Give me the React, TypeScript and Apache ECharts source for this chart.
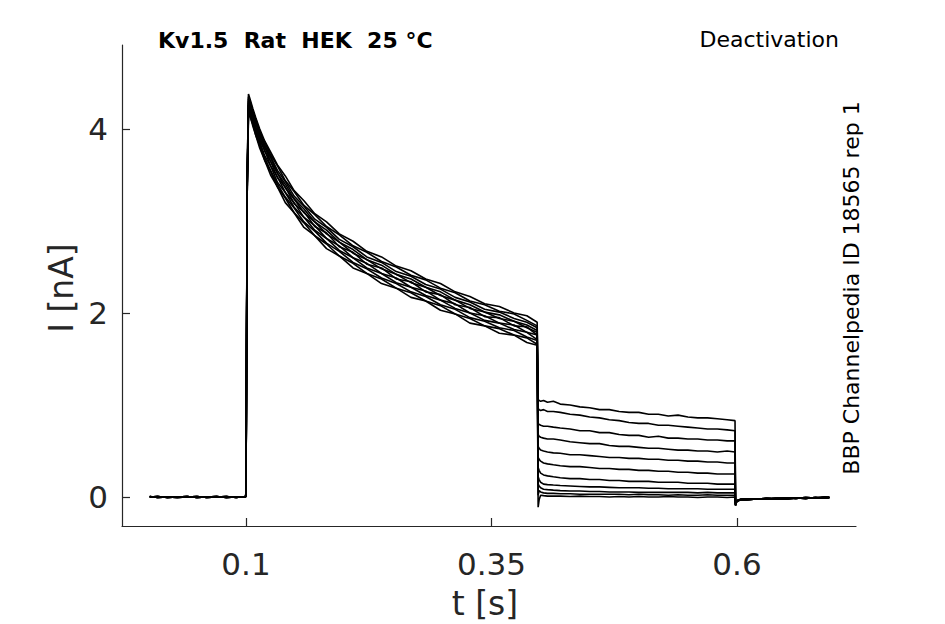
import React, { useEffect, useRef } from "react";
import * as echarts from "echarts";

// ---- axis ticks ----
const xTickValues = [0.1, 0.35, 0.6];
const xTickLabels = ["0.1", "0.35", "0.6"];
const yTickValues = [0, 2, 4];
const yTickLabels = ["0", "2", "4"];

// ---- baseline before the step (s, nA) ----
const tPre = [0.002, 0.01, 0.02, 0.03, 0.04, 0.05, 0.06, 0.07, 0.08, 0.09, 0.0995];
const preA = [0.0, 0.005, -0.005, 0.0, 0.005, -0.005, 0.0, 0.005, -0.005, 0.0, 0.0];
const preB = [0.005, -0.005, 0.0, -0.005, 0.0, 0.005, -0.005, 0.0, 0.005, -0.005, 0.005];

// ---- activation step ----
const tAct = [0.1, 0.1012, 0.1025, 0.104, 0.107, 0.11, 0.114, 0.119, 0.125, 0.132, 0.14, 0.149, 0.159, 0.17, 0.182, 0.195, 0.209, 0.223, 0.238, 0.253, 0.268, 0.283, 0.298, 0.313, 0.328, 0.343, 0.358, 0.373, 0.386, 0.3965];
const actA = [0.04, 3.5, 4.38, 4.33, 4.22, 4.12, 4.0, 3.87, 3.75, 3.61, 3.49, 3.33, 3.22, 3.08, 2.99, 2.86, 2.78, 2.67, 2.61, 2.51, 2.46, 2.37, 2.32, 2.23, 2.18, 2.1, 2.07, 2.0, 1.97, 1.9];
const actB = [0.05, 3.3, 4.3, 4.31, 4.19, 4.11, 3.97, 3.86, 3.72, 3.6, 3.44, 3.32, 3.17, 3.07, 2.94, 2.85, 2.73, 2.66, 2.56, 2.5, 2.41, 2.36, 2.27, 2.22, 2.13, 2.09, 2.02, 1.99, 1.92, 1.86];
const actC = [0.03, 3.4, 4.25, 4.28, 4.2, 4.08, 3.96, 3.83, 3.7, 3.55, 3.43, 3.27, 3.16, 3.02, 2.93, 2.8, 2.72, 2.61, 2.55, 2.45, 2.4, 2.31, 2.26, 2.17, 2.12, 2.04, 2.01, 1.94, 1.9, 1.84];
const actD = [0.05, 3.45, 4.33, 4.27, 4.17, 4.09, 3.95, 3.8, 3.69, 3.52, 3.4, 3.24, 3.13, 2.99, 2.9, 2.77, 2.69, 2.58, 2.52, 2.42, 2.37, 2.28, 2.23, 2.14, 2.09, 2.01, 1.98, 1.91, 1.87, 1.81];
const actE = [0.04, 3.35, 4.2, 4.24, 4.15, 4.06, 3.93, 3.81, 3.65, 3.52, 3.36, 3.24, 3.09, 2.99, 2.86, 2.77, 2.65, 2.58, 2.48, 2.42, 2.33, 2.28, 2.19, 2.14, 2.05, 2.01, 1.94, 1.91, 1.84, 1.79];
const actF = [0.05, 3.4, 4.28, 4.22, 4.13, 4.02, 3.91, 3.76, 3.65, 3.47, 3.37, 3.19, 3.1, 2.94, 2.87, 2.72, 2.66, 2.53, 2.49, 2.37, 2.34, 2.23, 2.2, 2.09, 2.06, 1.96, 1.95, 1.86, 1.85, 1.76];
const actG = [0.03, 3.3, 4.15, 4.2, 4.12, 4.01, 3.88, 3.77, 3.6, 3.48, 3.31, 3.2, 3.04, 2.95, 2.81, 2.73, 2.6, 2.54, 2.43, 2.38, 2.28, 2.24, 2.14, 2.1, 2.0, 1.97, 1.89, 1.87, 1.79, 1.76];
const actH = [0.05, 3.35, 4.22, 4.18, 4.08, 3.98, 3.86, 3.71, 3.6, 3.42, 3.31, 3.15, 3.04, 2.9, 2.81, 2.68, 2.6, 2.49, 2.43, 2.33, 2.28, 2.19, 2.14, 2.05, 2.0, 1.92, 1.89, 1.82, 1.79, 1.71];
const actI = [0.04, 3.5, 4.35, 4.21, 4.07, 3.96, 3.83, 3.69, 3.55, 3.4, 3.26, 3.14, 2.99, 2.89, 2.76, 2.67, 2.55, 2.48, 2.38, 2.32, 2.23, 2.18, 2.09, 2.04, 1.95, 1.91, 1.84, 1.81, 1.74, 1.7];
const actJ = [0.05, 3.3, 4.18, 4.14, 4.05, 3.93, 3.82, 3.66, 3.54, 3.37, 3.25, 3.09, 2.98, 2.84, 2.75, 2.62, 2.54, 2.43, 2.37, 2.27, 2.22, 2.13, 2.08, 1.99, 1.94, 1.86, 1.83, 1.76, 1.73, 1.66];
const actK = [0.04, 3.4, 4.26, 4.15, 4.03, 3.93, 3.79, 3.66, 3.5, 3.37, 3.2, 3.09, 2.93, 2.84, 2.7, 2.62, 2.49, 2.43, 2.32, 2.27, 2.17, 2.13, 2.03, 1.99, 1.89, 1.86, 1.78, 1.76, 1.68, 1.65];

// ---- deactivation tails ----
const tTail = [0.3975, 0.3985, 0.4, 0.403, 0.407, 0.413, 0.42, 0.43, 0.44, 0.45, 0.46, 0.47, 0.48, 0.49, 0.5, 0.51, 0.52, 0.53, 0.54, 0.55, 0.56, 0.57, 0.58, 0.59, 0.598];
const tailA = [1.06, 1.05, 1.04, 1.05, 1.03, 1.04, 1.01, 1.0, 0.98, 0.97, 0.95, 0.95, 0.93, 0.92, 0.92, 0.9, 0.9, 0.88, 0.89, 0.87, 0.86, 0.86, 0.85, 0.84, 0.83];
const tailB = [0.96, 0.95, 0.94, 0.95, 0.93, 0.93, 0.92, 0.9, 0.89, 0.87, 0.86, 0.84, 0.83, 0.81, 0.8, 0.8, 0.78, 0.78, 0.77, 0.76, 0.75, 0.74, 0.74, 0.73, 0.72];
const tailC = [0.8, 0.79, 0.78, 0.77, 0.77, 0.76, 0.75, 0.74, 0.72, 0.72, 0.7, 0.7, 0.68, 0.67, 0.67, 0.65, 0.66, 0.64, 0.64, 0.63, 0.63, 0.62, 0.62, 0.61, 0.61];
const tailD = [0.68, 0.66, 0.65, 0.64, 0.63, 0.63, 0.62, 0.6, 0.59, 0.58, 0.58, 0.56, 0.55, 0.55, 0.54, 0.53, 0.53, 0.52, 0.51, 0.51, 0.5, 0.5, 0.49, 0.5, 0.49];
const tailE = [0.55, 0.53, 0.51, 0.5, 0.49, 0.48, 0.475, 0.46, 0.46, 0.45, 0.44, 0.43, 0.43, 0.42, 0.42, 0.41, 0.41, 0.4, 0.4, 0.39, 0.39, 0.38, 0.38, 0.37, 0.37];
const tailF = [0.43, 0.41, 0.39, 0.37, 0.36, 0.35, 0.34, 0.33, 0.33, 0.32, 0.31, 0.31, 0.3, 0.3, 0.29, 0.29, 0.28, 0.28, 0.27, 0.27, 0.26, 0.26, 0.25, 0.25, 0.25];
const tailG = [0.32, 0.29, 0.26, 0.24, 0.23, 0.22, 0.21, 0.2, 0.2, 0.19, 0.19, 0.18, 0.18, 0.17, 0.17, 0.17, 0.16, 0.16, 0.16, 0.15, 0.15, 0.15, 0.14, 0.14, 0.14];
const tailH = [0.22, 0.19, 0.16, 0.14, 0.135, 0.13, 0.125, 0.12, 0.115, 0.11, 0.11, 0.105, 0.1, 0.1, 0.1, 0.095, 0.095, 0.09, 0.09, 0.09, 0.09, 0.085, 0.085, 0.085, 0.085];
const tailI = [0.14, 0.12, 0.1, 0.085, 0.08, 0.075, 0.07, 0.065, 0.065, 0.06, 0.06, 0.055, 0.055, 0.055, 0.05, 0.05, 0.05, 0.05, 0.05, 0.05, 0.045, 0.05, 0.045, 0.045, 0.045];
const tailJ = [0.02, 0.07, 0.055, 0.045, 0.04, 0.04, 0.035, 0.035, 0.03, 0.03, 0.03, 0.03, 0.03, 0.025, 0.03, 0.025, 0.025, 0.02, 0.025, 0.02, 0.02, 0.025, 0.02, 0.02, 0.02];
const tailK = [-0.11, -0.03, 0.02, 0.015, 0.01, 0.01, 0.01, 0.005, 0.01, 0.005, 0.005, 0.0, 0.005, 0.0, 0.005, 0.0, 0.0, 0.005, 0.0, 0.0, -0.005, 0.0, 0.0, -0.005, 0.0];

// ---- after the tail step ----
const tPost = [0.5985, 0.599, 0.601, 0.604, 0.61, 0.62, 0.63, 0.64, 0.65, 0.66, 0.67, 0.68, 0.69, 0.694];
const postA = [-0.09, -0.06, -0.04, -0.03, -0.03, -0.02, -0.025, -0.015, -0.02, -0.01, -0.015, -0.005, -0.01, -0.005];
const postB = [-0.07, -0.05, -0.035, -0.025, -0.02, -0.025, -0.015, -0.02, -0.01, -0.015, -0.005, -0.01, 0.0, -0.005];

const traces = [
  { pre: preA, act: actA, tail: tailA, post: postA },
  { pre: preB, act: actB, tail: tailB, post: postB },
  { pre: preA, act: actC, tail: tailC, post: postA },
  { pre: preB, act: actD, tail: tailD, post: postB },
  { pre: preA, act: actE, tail: tailE, post: postA },
  { pre: preB, act: actF, tail: tailF, post: postB },
  { pre: preA, act: actG, tail: tailG, post: postA },
  { pre: preB, act: actH, tail: tailH, post: postB },
  { pre: preA, act: actI, tail: tailI, post: postA },
  { pre: preB, act: actJ, tail: tailJ, post: postB },
  { pre: preA, act: actK, tail: tailK, post: postA },
];

const FONT = "DejaVu Sans";
const AXIS_COLOR = "#262626";

export default function App() {
  const ref = useRef<HTMLDivElement>(null);

  useEffect(() => {
    document.body.style.margin = "0";
    if (!ref.current) return;
    const chart = echarts.init(ref.current, undefined, { renderer: "svg" });

    const zip = (ts: number[], vs: number[]) => ts.map((t, i) => [t, vs[i]]);
    const series = traces.map((tr) => ({
      type: "line",
      data: [
        ...zip(tPre, tr.pre),
        ...zip(tAct, tr.act),
        ...zip(tTail, tr.tail),
        ...zip(tPost, tr.post),
      ],
      showSymbol: false,
      symbol: "none",
      silent: true,
      lineStyle: { color: "#000", width: 1.6 },
    }));

    chart.setOption({
      animation: false,
      grid: { left: 122, right: 89, top: 45, bottom: 98, containLabel: false },
      xAxis: {
        type: "value",
        min: -0.0263,
        max: 0.7212,
        axisLine: { show: true, onZero: false, lineStyle: { color: AXIS_COLOR, width: 1.2 } },
        axisTick: {
          show: true,
          inside: true,
          length: 8,
          customValues: xTickValues,
          lineStyle: { color: AXIS_COLOR, width: 1.2 },
        },
        axisLabel: {
          customValues: xTickValues,
          formatter: (v: number) => {
            const i = xTickValues.findIndex((x) => Math.abs(x - v) < 1e-9);
            return i >= 0 ? xTickLabels[i] : "";
          },
          fontFamily: FONT,
          fontSize: 31,
          color: AXIS_COLOR,
          margin: 22,
        },
        splitLine: { show: false },
      },
      yAxis: {
        type: "value",
        min: -0.315,
        max: 4.913,
        axisLine: { show: true, onZero: false, lineStyle: { color: AXIS_COLOR, width: 1.2 } },
        axisTick: {
          show: true,
          inside: true,
          length: 8,
          customValues: yTickValues,
          lineStyle: { color: AXIS_COLOR, width: 1.2 },
        },
        axisLabel: {
          customValues: yTickValues,
          formatter: (v: number) => {
            const i = yTickValues.findIndex((y) => Math.abs(y - v) < 1e-9);
            return i >= 0 ? yTickLabels[i] : "";
          },
          fontFamily: FONT,
          fontSize: 31,
          color: AXIS_COLOR,
          margin: 14,
        },
        splitLine: { show: false },
      },
      graphic: [
        {
          type: "text",
          x: 158,
          y: 40,
          style: {
            text: "Kv1.5  Rat  HEK  25 °C",
            fontFamily: FONT,
            fontWeight: "bold",
            fontSize: 22,
            fill: "#000",
            textAlign: "left",
            textVerticalAlign: "middle",
          },
        },
        {
          type: "text",
          x: 839,
          y: 39,
          style: {
            text: "Deactivation",
            fontFamily: FONT,
            fontSize: 22,
            fill: "#000",
            textAlign: "right",
            textVerticalAlign: "middle",
          },
        },
        {
          type: "text",
          x: 851,
          y: 288,
          rotation: Math.PI / 2,
          style: {
            text: "BBP Channelpedia ID 18565 rep 1",
            fontFamily: FONT,
            fontSize: 22,
            fill: "#000",
            textAlign: "center",
            textVerticalAlign: "middle",
          },
        },
        {
          type: "text",
          x: 61,
          y: 288,
          rotation: Math.PI / 2,
          style: {
            text: "I [nA]",
            fontFamily: FONT,
            fontSize: 33,
            fill: AXIS_COLOR,
            textAlign: "center",
            textVerticalAlign: "middle",
          },
        },
        {
          type: "text",
          x: 485,
          y: 603,
          style: {
            text: "t [s]",
            fontFamily: FONT,
            fontSize: 33,
            fill: AXIS_COLOR,
            textAlign: "center",
            textVerticalAlign: "middle",
          },
        },
      ],
      series,
    });

    return () => chart.dispose();
  }, []);

  return <div ref={ref} style={{ width: 945, height: 624 }} />;
}
